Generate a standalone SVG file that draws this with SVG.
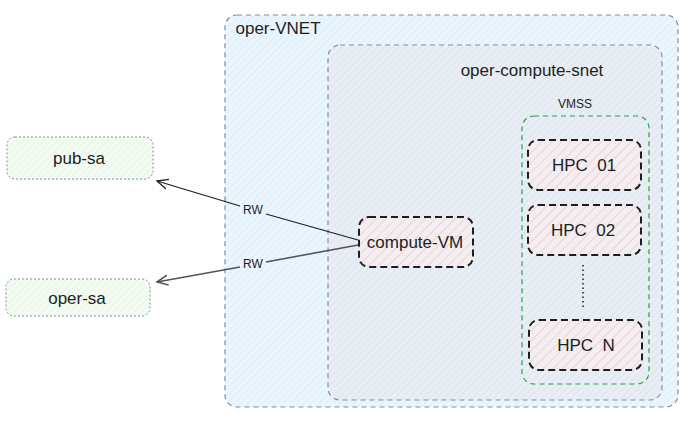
<svg xmlns="http://www.w3.org/2000/svg" width="686" height="421" viewBox="0 0 686 421">
<style>
text{font-family:"Liberation Sans","DejaVu Sans",sans-serif;fill:#1e1e1e;text-anchor:middle;dominant-baseline:central;white-space:pre}
.lbl{font-size:17px}
.sm{font-size:12px}
.box{stroke:#1e1e1e;stroke-width:2;stroke-dasharray:7 4;fill:url(#hRed)}
.sa{stroke:#868e96;stroke-width:1;stroke-dasharray:2 2;fill:url(#hGreen)}
.conn{fill:none;stroke:#1e1e1e;stroke-width:1.2}
</style>
<defs>
<pattern id="hBlue" width="5" height="5" patternUnits="userSpaceOnUse" patternTransform="rotate(45)">
<rect width="5" height="5" fill="#ebf5fd"/><line x1="0" y1="0" x2="0" y2="5" stroke="#cfe6f8" stroke-width="1"/>
</pattern>
<pattern id="hGray" width="5" height="5" patternUnits="userSpaceOnUse" patternTransform="rotate(45)">
<rect width="5" height="5" fill="#e9eef5"/><line x1="0" y1="0" x2="0" y2="5" stroke="#d3dde9" stroke-width="1"/>
</pattern>
<pattern id="hRed" width="7" height="7" patternUnits="userSpaceOnUse" patternTransform="rotate(45)">
<rect width="7" height="7" fill="#f2eef2"/><line x1="0" y1="0" x2="0" y2="7" stroke="#f5b3b3" stroke-width="1"/>
</pattern>
<pattern id="hGreen" width="5" height="5" patternUnits="userSpaceOnUse" patternTransform="rotate(45)">
<rect width="5" height="5" fill="#f3fbf2"/><line x1="0" y1="0" x2="0" y2="5" stroke="#dcf2d9" stroke-width="1"/>
</pattern>
<marker id="arr" viewBox="0 0 12 12" refX="11" refY="6" markerWidth="12" markerHeight="12" markerUnits="userSpaceOnUse" orient="auto">
<path d="M0,1 L11,6 L0,11" fill="none" stroke="#1e1e1e" stroke-width="1.3"/>
</marker>
<marker id="arr2" viewBox="0 0 12 12" refX="11" refY="6" markerWidth="12" markerHeight="12" markerUnits="userSpaceOnUse" orient="auto">
<path d="M0,1 L11,6 L0,11" fill="none" stroke="#555" stroke-width="1.6"/>
</marker>
</defs>
<rect width="686" height="421" fill="#ffffff"/>
<g id="oper-VNET">
<rect x="225" y="15" width="453" height="392" rx="12" fill="url(#hBlue)" stroke="#868e96" stroke-width="1.2" stroke-dasharray="5 4"/>
<text x="278" y="28" class="lbl">oper-VNET</text>
</g>
<g id="oper-compute-snet">
<rect x="328" y="45" width="334" height="355" rx="12" fill="url(#hGray)" stroke="#868e96" stroke-width="1.2" stroke-dasharray="5 4"/>
<text x="532" y="70" class="lbl">oper-compute-snet</text>
</g>
<g id="VMSS">
<rect x="522" y="116" width="127" height="268" rx="12" fill="none" stroke="#2f9e44" stroke-width="1.2" stroke-dasharray="5 4"/>
<text x="575" y="104" class="sm">VMSS</text>
</g>
<g id="HPC-01">
<rect x="528" y="140" width="113" height="50" rx="10" class="box"/>
<text x="584" y="165" class="lbl">HPC  01</text>
</g>
<g id="HPC-02">
<rect x="528" y="205" width="113" height="50" rx="10" class="box"/>
<text x="583" y="230" class="lbl">HPC  02</text>
</g>
<g id="HPC-N">
<rect x="529" y="320" width="113" height="50" rx="10" class="box"/>
<text x="586" y="345" class="lbl">HPC  N</text>
</g>
<g id="compute-VM">
<rect x="359" y="217" width="114" height="50" rx="10" class="box"/>
<text x="415" y="242" class="lbl">compute-VM</text>
</g>
<g id="pub-sa">
<rect x="7" y="137" width="146" height="42" rx="8" class="sa"/>
<text x="79" y="158" class="lbl">pub-sa</text>
</g>
<g id="oper-sa">
<rect x="6" y="279" width="144" height="37" rx="8" class="sa"/>
<text x="77" y="298" class="lbl">oper-sa</text>
</g>
<g id="connectors">
<line x1="583" y1="265" x2="583" y2="308" stroke="#1e1e1e" stroke-width="1.5" stroke-dasharray="1.5 3"/>
<path d="M358,240 L266,214" class="conn"/>
<path d="M240,206 L157,181" class="conn" marker-end="url(#arr)"/>
<text x="253" y="210" class="sm">RW</text>
<path d="M358,245 L266,262" fill="none" stroke="#555" stroke-width="1.6"/>
<path d="M240,267 L157,282" fill="none" stroke="#555" stroke-width="1.6" marker-end="url(#arr2)"/>
<text x="253" y="264" class="sm">RW</text>
</g>
</svg>
